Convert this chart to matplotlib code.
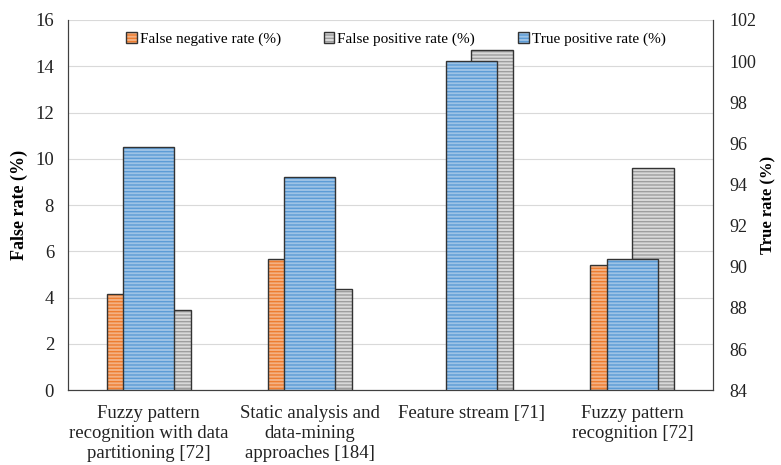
import matplotlib.pyplot as plt
import numpy as np

plt.rcParams['font.family'] = ['Liberation Serif', 'DejaVu Serif']
plt.rcParams['hatch.linewidth'] = 1.0

categories = ['Fuzzy pattern\nrecognition with data\npartitioning [72]',
              'Static analysis and\ndata-mining\napproaches [184]',
              'Feature stream [71]',
              'Fuzzy pattern\nrecognition [72]']
false_negative = [4.15, 5.65, 0.0, 5.4]
false_positive = [3.45, 4.37, 14.7, 9.6]
true_positive = [95.8, 94.35, 100.0, 90.4]

x = np.arange(len(categories))

fig = plt.figure(figsize=(7.81, 4.65), dpi=100)
ax = fig.add_axes([0.087, 0.161, 0.826, 0.796])
ax2 = ax.twinx()

w = 0.26
ax.bar(x - w / 2, false_negative, w, facecolor='#F4B183', edgecolor='#333333',
       hatch='-----', linewidth=1.0, label='False negative rate (%)')
ax.bar(x + w / 2, false_positive, w, facecolor='#D9D9D9', edgecolor='#333333',
       hatch='-----', linewidth=1.0, label='False positive rate (%)')
ax2.bar(x, true_positive, 0.317, bottom=0, facecolor='#9DC3E6', edgecolor='#333333',
        hatch='-----', linewidth=1.0, label='True positive rate (%)')

# hatch colours per series, hide empty bars
for p in ax.containers[0]:
    p._hatch_color = (0.93, 0.49, 0.19, 1)
    if p.get_height() == 0:
        p.set_visible(False)
for p in ax.containers[1]:
    p._hatch_color = (0.62, 0.62, 0.62, 1)
for p in ax2.containers[0]:
    p._hatch_color = (0.36, 0.61, 0.84, 1)

ax.set_ylim(0, 16)
ax.set_yticks(np.arange(0, 17, 2))
ax2.set_ylim(84, 102)
ax2.set_yticks(np.arange(84, 103, 2))
ax.set_xlim(-0.5, 3.5)
ax.set_xticks(x)
ax.set_xticklabels(categories, fontsize=13.5)

ax.grid(axis='y', color='#D9D9D9', linewidth=0.8)
ax.set_axisbelow(True)
for a in (ax, ax2):
    a.spines['top'].set_visible(False)
    a.tick_params(length=0, labelsize=13.5, colors='#222222')
    for s in ('left', 'right', 'bottom'):
        a.spines[s].set_color('#404040')
ax.tick_params(axis='y', pad=10)
ax2.tick_params(axis='y', pad=12, labelsize=13)
ax.tick_params(axis='x', pad=11)

ax.set_ylabel('False rate (%)', fontsize=13, fontweight='bold', labelpad=5)
ax2.set_ylabel('True rate (%)', fontsize=12, fontweight='bold', labelpad=3)

h1, l1 = ax.get_legend_handles_labels()
h2, l2 = ax2.get_legend_handles_labels()
ax2.legend(h1 + h2, l1 + l2, loc='upper center', bbox_to_anchor=(0.508, 1.005),
           ncol=3, frameon=False, fontsize=11, handlelength=0.7, handleheight=0.7,
           handletextpad=0.2, columnspacing=2.8)

fig.savefig('out.png', dpi=100)
